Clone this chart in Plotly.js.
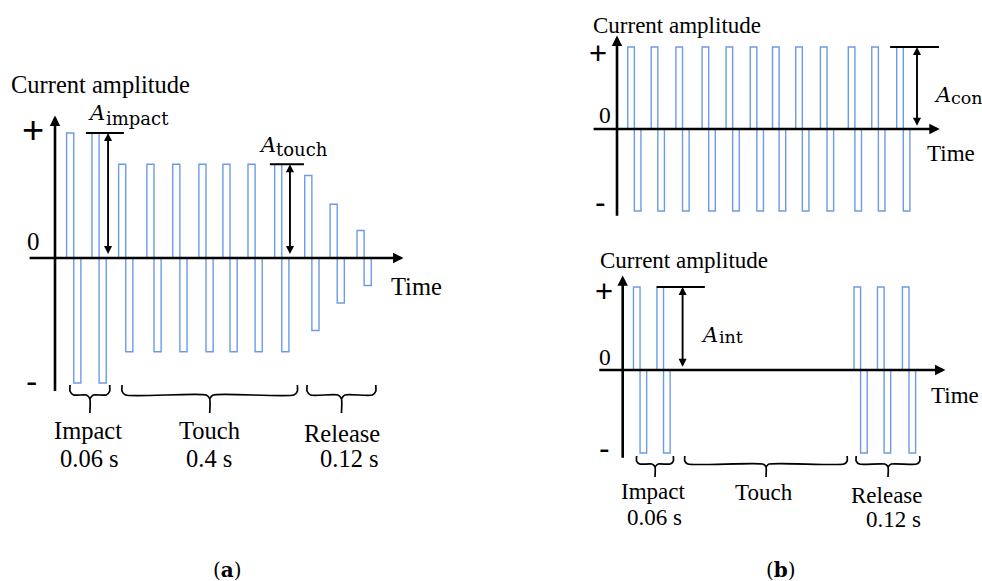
<!DOCTYPE html>
<html><head><meta charset="utf-8">
<script src="https://cdn.plot.ly/plotly-3.0.1.min.js"></script>
<style>body{margin:0;background:#fff}#chart{width:982px;height:581px}</style>
</head><body><div id="chart"></div>
<script>
// ---------------- data ----------------
// start time of each bipolar pulse (arbitrary time units, period ~10)
const pulseStart = [4.4, 14.0, 24.1, 34.8, 44.6, 54.5, 63.6, 73.1, 83.2, 94.6, 104.2, 114.4];
const halfWidth = 2.7;   // duration of each polarity phase
// (a) variable amplitude
const aPos = [1.0, 1.0, 0.75, 0.75, 0.75, 0.75, 0.75, 0.75, 0.75, 0.66, 0.43, 0.22];
const aNeg = [-1.0, -1.0, -0.75, -0.75, -0.75, -0.75, -0.75, -0.75, -0.75, -0.58, -0.36, -0.22];
// (b) continuous constant amplitude
const conPos = [1, 1, 1, 1, 1, 1, 1, 1, 1, 1, 1, 1];
const conNeg = [-1, -1, -1, -1, -1, -1, -1, -1, -1, -1, -1, -1];
// (b) intermittent: no stimulation during touch
const intPos = [1, 1, null, null, null, null, null, null, null, 1, 1, 1];
const intNeg = [-1, -1, null, null, null, null, null, null, null, -1, -1, -1];
// phases
const phaseNames = ['Impact', 'Touch', 'Release'];
const phaseDurA = ['0.06 s', '0.4 s', '0.12 s'];
const phaseDurB = ['0.06 s', '', '0.12 s'];
const phaseStart = [5.7, 25.4, 95.5];
const phaseEnd = [20.7, 91.8, 121.5];
// amplitude markers: [t0, t1, amplitude, arrow time]
const mImpact = [11.7, 26.1, 1.0, 20.1];
const mTouch = [81.4, 94.3, 0.75, 89.0];
const mCon = [111.7, 131.7, 1.0, 122.7];
const mInt = [13.9, 33.6, 1.0, 24.5];
// axis extents (time, amplitude)
const axisT = [-10.2, 132];
const axisA = [-1.075, 1.14];

// ---------------- layout helpers ----------------
const W = 982, H = 581;
const SERIF = 'Liberation Serif';
const MATH = 'DejaVu Serif';
const SANS = 'Liberation Sans';
const BLUE = '#6c9be6';
const panels = {
  a:  {xa: 'x',  ya: 'y',  ox: 55,    oy: 258, sx: 2.64,  sy: 125, br: [-1.016, -1.096, -1.24, 0.03]},
  b1: {xa: 'x2', ya: 'y2', ox: 617,   oy: 129, sx: 2.445, sy: 82},
  b2: {xa: 'x3', ya: 'y3', ox: 622.7, oy: 370, sx: 2.445, sy: 83,  br: [-1.036, -1.133, -1.289, 0.035]}
};

const traces = [];
const annotations = [];

function pulseTrace(p, pos, neg) {
  const x = [], y = [];
  pulseStart.forEach((s, i) => {
    if (pos[i] == null) return;
    x.push(s, s, s + halfWidth, s + halfWidth, s + 2 * halfWidth, s + 2 * halfWidth, null);
    y.push(0, pos[i], pos[i], neg[i], neg[i], 0, null);
  });
  traces.push({type: 'scatter', mode: 'lines', x, y, xaxis: p.xa, yaxis: p.ya,
    line: {color: BLUE, width: 1.4}, hoverinfo: 'skip', showlegend: false});
}

function arrow(p, x, y, ax, ay, w, size, both) {
  const a = {x, y, ax, ay, xref: p.xa, yref: p.ya, axref: p.xa, ayref: p.ya, text: '',
    showarrow: true, arrowhead: 2, arrowsize: size, arrowwidth: w, arrowcolor: '#000'};
  if (both) { a.arrowside = 'end+start'; a.startarrowhead = 2; a.startarrowsize = size; }
  annotations.push(a);
}

function axes(p) {
  arrow(p, axisT[1], 0, axisT[0], 0, 2.6, 0.8, false);
  arrow(p, 0, axisA[1], 0, axisA[0], 2.6, 0.8, false);
}

function marker(p, m) {
  traces.push({type: 'scatter', mode: 'lines', x: [m[0], m[1]], y: [m[2], m[2]], xaxis: p.xa, yaxis: p.ya,
    line: {color: '#000', width: 1.8}, hoverinfo: 'skip', showlegend: false});
  arrow(p, m[3], m[2], m[3], 0.02, 1.9, 0.85, true);
}

function brackets(p) {
  const [yTop, yH, yTip, e] = p.br;
  const r = 1.3;
  const x = [], y = [];
  phaseStart.forEach((x0, i) => {
    const x1 = phaseEnd[i], xc = (x0 + x1) / 2;
    x.push(x0, x0, x0 + r, xc - r, xc, xc, null, xc, xc + r, x1 - r, x1, x1, null);
    y.push(yTop, yH + e, yH, yH, yH - e, yTip, null, yH - e, yH, yH, yH + e, yTop, null);
  });
  traces.push({type: 'scatter', mode: 'lines', x, y, xaxis: p.xa, yaxis: p.ya,
    line: {color: '#000', width: 1.7, shape: 'spline', smoothing: 0.6}, hoverinfo: 'skip', showlegend: false});
}

function T(text, px, py, size, xanchor, family, extra) {
  annotations.push(Object.assign({text, x: px / W, y: 1 - py / H, xref: 'paper', yref: 'paper',
    showarrow: false, xanchor: xanchor || 'center', yanchor: 'middle', borderpad: 0,
    font: {family: family || SERIF, size, color: '#000'}}, extra || {}));
}

// ---------------- panel (a) ----------------
pulseTrace(panels.a, aPos, aNeg);
axes(panels.a);
marker(panels.a, mImpact);
marker(panels.a, mTouch);
brackets(panels.a);
T('Current amplitude', 10, 84.5, 24.5, 'left');
T('+', 33, 130, 38, 'center', SANS);
T('0', 33, 241, 25);
T('-', 32, 381, 34, 'center', SANS);
T('Time', 416, 287, 24.5);
T('<i>A</i>', 87, 112.7, 21, 'left', MATH);
T('impact', 105, 118.8, 18, 'left', MATH);
T('<i>A</i>', 258, 144.7, 21, 'left', MATH);
T('touch', 275, 149.8, 18, 'left', MATH);
T(phaseNames[0], 88, 430, 24.5);
T(phaseDurA[0], 89, 458, 24.5);
T(phaseNames[1], 209, 430, 24.5);
T(phaseDurA[1], 209, 458, 24.5);
T(phaseNames[2], 341.5, 433.4, 24.5);
T(phaseDurA[2], 349, 458.4, 24.5);
T('(<b>a</b>)', 227, 570, 20, 'center', MATH);

// ---------------- panel (b) top ----------------
pulseTrace(panels.b1, conPos, conNeg);
axes(panels.b1);
marker(panels.b1, mCon);
T('Current amplitude', 592, 25.2, 23, 'left');
T('+', 597.5, 53.3, 31, 'center', SANS);
T('0', 605, 115, 23.5);
T('-', 600, 202, 32, 'center', SANS);
T('Time', 951, 154, 23);
T('<i>A</i>', 933, 94.7, 21, 'left', MATH);
T('con', 950, 97.8, 17.5, 'left', MATH);

// ---------------- panel (b) bottom ----------------
pulseTrace(panels.b2, intPos, intNeg);
axes(panels.b2);
marker(panels.b2, mInt);
brackets(panels.b2);
T('Current amplitude', 599, 260.2, 23, 'left');
T('+', 603.5, 291, 31, 'center', SANS);
T('0', 605, 357, 23.5);
T('-', 604.5, 448, 32, 'center', SANS);
T('Time', 955, 395.5, 23);
T('<i>A</i>', 700, 334.7, 21, 'left', MATH);
T('int', 718, 336.8, 17.5, 'left', MATH);
T(phaseNames[0], 653.3, 491.2, 23);
T(phaseDurB[0], 654.7, 517.2, 23);
T(phaseNames[1], 763.7, 492.2, 23);
T(phaseNames[2], 886.7, 495.5, 23);
T(phaseDurB[2], 893.8, 519.5, 23);
T('(<b>b</b>)', 781, 570, 20, 'center', MATH);

// ---------------- axes (hidden, mapped so each panel's origin sits in place) ----------------
const layout = {
  width: W, height: H, margin: {l: 0, r: 0, t: 0, b: 0},
  paper_bgcolor: '#fff', plot_bgcolor: 'rgba(0,0,0,0)', showlegend: false,
  font: {family: SERIF},
  annotations
};
Object.entries(panels).forEach(([k, p], i) => {
  const sfx = i === 0 ? '' : String(i + 1);
  layout['xaxis' + sfx] = {visible: false, domain: [0, 1], fixedrange: true, anchor: 'y' + sfx,
    range: [-p.ox / p.sx, (W - p.ox) / p.sx]};
  layout['yaxis' + sfx] = {visible: false, domain: [0, 1], fixedrange: true, anchor: 'x' + sfx,
    range: [-(H - p.oy) / p.sy, p.oy / p.sy]};
});

Plotly.newPlot('chart', traces, layout, {staticPlot: true, displayModeBar: false});
</script>
</body></html>
